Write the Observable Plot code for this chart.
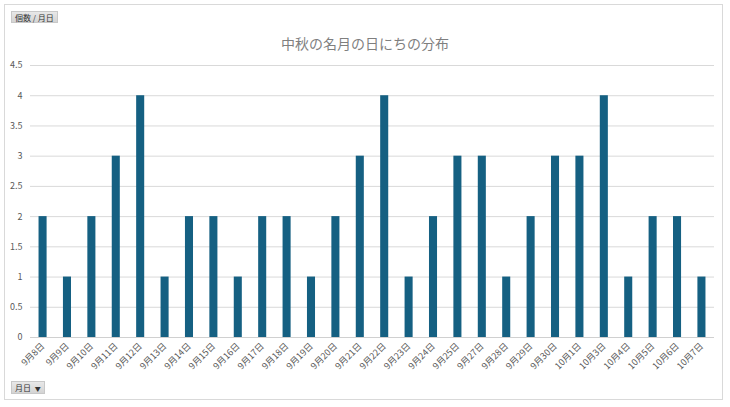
<!DOCTYPE html>
<html><head><meta charset="utf-8">
<script src="https://cdn.jsdelivr.net/npm/d3@7"></script>
<script src="https://cdn.jsdelivr.net/npm/@observablehq/plot@0.6"></script>
<style>
body{margin:0;background:#fff;font-family:"Noto Sans CJK JP",sans-serif;}
#wrap{position:relative;width:730px;height:407px;overflow:hidden;}
#frame{position:absolute;left:4px;top:4px;width:719px;height:396px;border:1px solid #d9d9d9;box-sizing:border-box;}
.btn{position:absolute;white-space:nowrap;background:linear-gradient(#e8e8e8,#d4d4d4);border:1px solid #c8c8c8;font-size:8px;color:#333;line-height:11px;padding:0 3px;box-sizing:border-box;}
#title{position:absolute;left:0;width:730px;top:33px;text-align:center;font-size:14px;color:#7f7f7f;}
#chart{position:absolute;left:0;top:0;}
</style></head>
<body><div id="wrap"><div id="frame"></div><div id="chart"></div>
<div id="title">中秋の名月の日にちの分布</div>
<div class="btn" style="left:11px;top:11px;height:12px;">個数 / 月日</div>
<div class="btn" style="left:11px;top:381px;height:13px;">月日 <span style="font-size:6px;margin-left:2px">▼</span></div>
</div>
<script>
const dates = ["9月8日","9月9日","9月10日","9月11日","9月12日","9月13日","9月14日","9月15日","9月16日","9月17日","9月18日","9月19日","9月20日","9月21日","9月22日","9月23日","9月24日","9月25日","9月27日","9月28日","9月29日","9月30日","10月1日","10月3日","10月4日","10月5日","10月6日","10月7日"];
const counts = [2,1,2,3,4,1,2,2,1,2,2,1,2,3,4,1,2,3,3,1,2,3,3,4,1,2,2,1];
const yTicks = [0,0.5,1,1.5,2,2.5,3,3.5,4,4.5];
const data = dates.map((d,i)=>({date:d,count:counts[i]}));
const chart = Plot.plot({
  width:730, height:407,
  marginLeft:30, marginRight:16, marginTop:65, marginBottom:70,
  style:{fontFamily:"'Noto Sans CJK JP',sans-serif",fontSize:"9px",color:"#595959",background:"transparent"},
  x:{domain:dates, paddingInner:0.67, paddingOuter:0.35, round:false, label:null, tickRotate:-45, tickSize:0, tickPadding:7},
  y:{domain:[0,4.5], ticks:yTicks, tickFormat:d=>String(d), label:null, tickSize:0, tickPadding:8},
  marks:[
    Plot.gridY(yTicks,{stroke:"#d9d9d9",strokeOpacity:1}),
    Plot.barY(data,{x:"date",y:"count",fill:"#156082"}),
    Plot.ruleY([0],{stroke:"#d0d0d0"})
  ]
});
document.getElementById("chart").appendChild(chart);
</script></body></html>
